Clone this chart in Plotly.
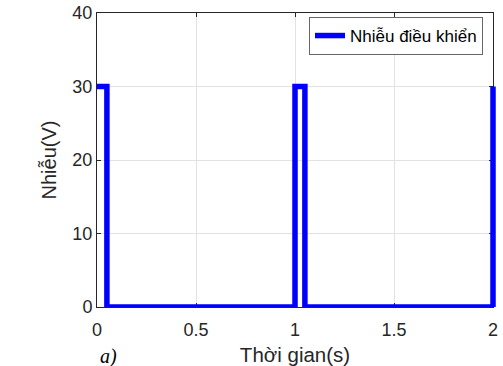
import plotly.graph_objects as go

# ---- data ----
t = [0, 0.05, 0.05, 1.0, 1.0, 1.05, 1.05, 2.0, 2.0]
u = [30, 30, 0, 0, 30, 30, 0, 0, 30]
x_ticks = [0, 0.5, 1, 1.5, 2]
x_tick_labels = ["0", "0.5", "1", "1.5", "2"]
y_ticks = [0, 10, 20, 30, 40]
y_tick_labels = ["0", "10", "20", "30", "40"]
series_name = "Nhiễu điều khiển"
x_title = "Thời gian(s)"
y_title = "Nhiễu(V)"
panel_label = "a)"

# ---- layout geometry ----
W, H = 503, 366
L, R, T, B = 97, 6, 13, 59
pw = W - L - R
ph = H - T - B
axis_w = 396  # pixel width of the visible axes box
xdom = axis_w / pw
x_max = 2.0
x2_max = x_max * pw / axis_w

FONT = "Liberation Sans, Arial, Helvetica, sans-serif"
TXT = "#262626"
GRID = "#e2e2e2"

fig = go.Figure()
# empty trace to hold the visible axes
fig.add_trace(go.Scatter(x=[], y=[], showlegend=False, hoverinfo="skip"))
# the signal, on an invisible overlay with a slightly wider clip area
fig.add_trace(go.Scatter(
    x=t, y=u, xaxis="x2", yaxis="y2", mode="lines",
    line=dict(color="#0000ff", width=5.5),
    name=series_name, showlegend=True,
))

axis_common = dict(
    automargin=False,
    ticks="inside", ticklen=4, tickwidth=1, tickcolor=TXT,
    showline=True, linecolor=TXT, linewidth=1, mirror="ticks",
    showgrid=True, gridcolor=GRID, gridwidth=1, zeroline=False,
    tickfont=dict(family=FONT, size=18, color=TXT),
)

fig.update_layout(
    width=W, height=H, autosize=False,
    margin=dict(l=L, r=R, t=T, b=B, pad=0),
    paper_bgcolor="white", plot_bgcolor="rgba(0,0,0,0)",
    font=dict(family=FONT, color=TXT),
    xaxis=dict(domain=[0, xdom], range=[0, x_max], tickvals=x_ticks,
               ticktext=x_tick_labels, anchor="y", ticklabelstandoff=6,
               title=dict(text=x_title, font=dict(family=FONT, size=20.5, color=TXT), standoff=12),
               **axis_common),
    yaxis=dict(domain=[0, 1], range=[0, 40], tickvals=y_ticks,
               ticktext=y_tick_labels, anchor="x",
               title=dict(text=y_title, font=dict(family=FONT, size=20, color=TXT), standoff=10),
               **axis_common),
    xaxis2=dict(domain=[0, 1], range=[0, x2_max], anchor="y2", visible=False, automargin=False),
    yaxis2=dict(domain=[0, 1], range=[0, 40], anchor="x2", visible=False, automargin=False),
    legend=dict(
        x=(483 - L) / pw, y=(H - B - 17) / ph, xanchor="right", yanchor="top",
        bgcolor="white", bordercolor="#666666", borderwidth=1,
        font=dict(family=FONT, size=17, color="#000000"),
        tracegroupgap=0,
    ),
    showlegend=True,
    annotations=[dict(
        text="<i>" + panel_label + "</i>", xref="paper", yref="paper",
        x=(108 - L) / pw, y=(H - B - 356) / ph, showarrow=False,
        font=dict(family="Liberation Serif, Times New Roman, serif", size=20, color="#000000"),
        xanchor="center", yanchor="middle",
    )],
)

fig.write_html(
    "out.html",
    config={"displayModeBar": False, "responsive": False},
    post_script="document.body.style.margin='0';document.body.style.overflow='hidden';",
)
